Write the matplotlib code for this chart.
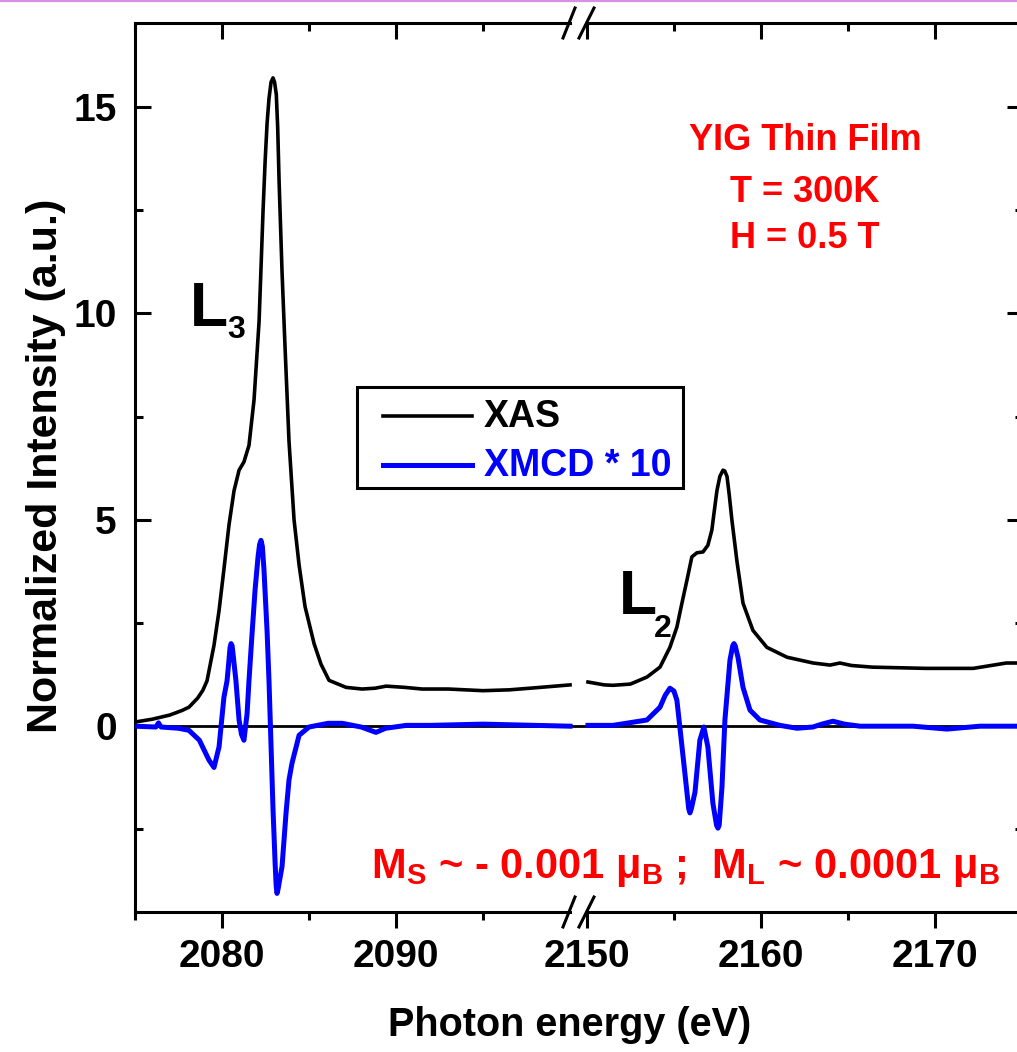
import matplotlib
matplotlib.use("Agg")
import matplotlib.pyplot as plt
from matplotlib.lines import Line2D
from matplotlib.patches import Rectangle

plt.rcParams['font.family'] = ['Liberation Sans', 'DejaVu Sans']
plt.rcParams['font.weight'] = 'bold'
plt.rcParams['mathtext.fontset'] = 'custom'
plt.rcParams['mathtext.rm'] = 'Liberation Sans:bold'
plt.rcParams['mathtext.default'] = 'rm'

# ---- data ----
# L3 edge (left part of the broken axis)
xas_E_L3 = [2075.0, 2076.0, 2077.0, 2077.7, 2078.1, 2078.6, 2078.9, 2079.14, 2079.54,
            2079.83, 2080.11, 2080.40, 2080.69, 2080.98, 2081.26, 2081.55, 2081.84,
            2082.13, 2082.25, 2082.36, 2082.48, 2082.59, 2082.70, 2082.82, 2082.93,
            2083.02, 2083.12, 2083.20, 2083.28, 2083.45, 2083.62, 2083.85, 2084.14,
            2084.43, 2084.77, 2085.29, 2085.69, 2086.15, 2087.13, 2088.05, 2088.8,
            2089.43, 2090.5, 2091.5, 2093.0, 2095.0, 2096.5, 2098.0, 2100.0]
xas_L3 = [0.10, 0.17, 0.27, 0.38, 0.46, 0.68, 0.87, 1.10, 1.96,
          2.80, 3.80, 4.87, 5.70, 6.20, 6.40, 6.80, 7.90,
          9.80, 11.2, 12.5, 13.7, 14.6, 15.2, 15.6, 15.7,
          15.6, 15.3, 14.5, 13.2, 11.0, 9.2, 6.9, 5.0,
          3.9, 2.9, 2.0, 1.5, 1.11, 0.94, 0.90, 0.92,
          0.97, 0.94, 0.90, 0.90, 0.86, 0.88, 0.93, 1.00]

mcd_E_L3 = [2075.0, 2076.2, 2076.35, 2076.5, 2077.5, 2078.1, 2078.7, 2079.25, 2079.54,
            2079.83, 2080.11, 2080.29, 2080.40, 2080.46, 2080.52, 2080.58, 2080.66,
            2080.80, 2080.98, 2081.12, 2081.26, 2081.44, 2081.55, 2081.72, 2081.90,
            2082.07, 2082.16, 2082.24, 2082.32, 2082.41, 2082.59, 2082.70, 2082.82,
            2082.93, 2083.05, 2083.11, 2083.16, 2083.22, 2083.28, 2083.45, 2083.68,
            2083.85, 2084.02, 2084.43, 2085.0, 2086.1, 2086.9, 2088.0, 2088.85,
            2089.4, 2090.6, 2092.0, 2095.0, 2098.0, 2100.0]
mcd_L3 = [0.0, -0.02, 0.08, -0.02, -0.05, -0.10, -0.34, -0.82, -1.0,
          -0.5, 0.7, 1.1, 1.6, 1.9, 2.0, 1.95, 1.65,
          1.1, 0.15, -0.2, -0.34, 0.3, 1.1, 2.2, 3.3,
          4.1, 4.4, 4.5, 4.35, 3.8, 2.3, 1.1, -0.5,
          -2.0, -3.3, -3.85, -4.05, -3.95, -3.8, -3.4, -2.1,
          -1.3, -0.9, -0.22, -0.02, 0.07, 0.07, -0.02, -0.15,
          -0.05, 0.02, 0.02, 0.05, 0.02, 0.0]

# L2 edge (right part)
xas_E_L2 = [2150.06, 2151.0, 2151.5, 2152.5, 2153.45, 2154.2, 2154.77, 2155.17, 2155.46,
            2155.75, 2156.03, 2156.32, 2156.67, 2156.95, 2157.18, 2157.30, 2157.47,
            2157.64, 2157.82, 2157.92, 2158.05, 2158.18, 2158.33, 2158.62, 2158.97,
            2159.54, 2160.34, 2161.5, 2163.0, 2163.97, 2164.54, 2165.2, 2166.4,
            2169.5, 2172.2, 2174.1, 2175.06]
xas_L2 = [1.07, 1.00, 0.99, 1.02, 1.19, 1.43, 1.91, 2.40, 2.98,
          3.54, 4.10, 4.20, 4.22, 4.38, 4.75, 5.15, 5.70,
          6.05, 6.20, 6.18, 6.05, 5.60, 5.00, 4.00, 2.98,
          2.32, 1.91, 1.67, 1.53, 1.48, 1.53, 1.47, 1.43,
          1.40, 1.40, 1.53, 1.53]

mcd_E_L2 = [2150.06, 2151.5, 2153.45, 2154.2, 2154.5, 2154.77, 2155.0, 2155.17, 2155.34,
            2155.63, 2155.85, 2155.92, 2156.0, 2156.21, 2156.49, 2156.72, 2156.95,
            2157.24, 2157.45, 2157.53, 2157.60, 2157.76, 2157.93, 2158.22, 2158.38,
            2158.45, 2158.52, 2158.68, 2158.97, 2159.37, 2159.94, 2161.09, 2162.07,
            2162.99, 2163.5, 2164.14, 2164.8, 2165.69, 2168.74, 2170.69, 2172.59,
            2175.06]
mcd_L2 = [0.02, 0.02, 0.15, 0.46, 0.75, 0.92, 0.85, 0.63, -0.02,
          -1.14, -2.0, -2.1, -2.0, -1.6, -0.34, -0.02, -0.5,
          -1.87, -2.4, -2.47, -2.4, -1.48, 0.15, 1.6, 1.95,
          2.0, 1.95, 1.67, 0.94, 0.39, 0.15, 0.02, -0.05,
          -0.02, 0.05, 0.12, 0.05, 0.0, 0.0, -0.07, 0.0,
          0.0]

left_xlim = (2075.0, 2100.4)
right_xlim = (2149.43, 2175.06)
left_major = [2080, 2090]
left_minor = [2075, 2085, 2095]
right_major = [2150, 2160, 2170]
right_minor = [2155, 2165, 2175]
y_major = [0, 5, 10, 15]
y_minor = [-2.5, 2.5, 7.5, 12.5]
legend_labels = ['XAS', 'XMCD * 10']

W, H = 1017, 1052
fig = plt.figure(figsize=(W / 100, H / 100), dpi=100)


def fx(px):
    return px / W


def fy(py):
    return 1 - py / H


ax1 = fig.add_axes([fx(135), fy(912), fx(577) - fx(135), fy(23) - fy(912)])
ax2 = fig.add_axes([fx(577), fy(912), fx(1023) - fx(577), fy(23) - fy(912)], sharey=ax1)

blue = '#0000ff'
lw_xas = 2.6
lw_mcd = 3.6
for ax, Ex, yx, Em, ym in [(ax1, xas_E_L3, xas_L3, mcd_E_L3, mcd_L3),
                           (ax2, xas_E_L2, xas_L2, mcd_E_L2, mcd_L2)]:
    ax.axhline(0, color='k', lw=2.0, zorder=1)
    ax.plot(Ex, yx, color='k', lw=lw_xas, zorder=2, solid_joinstyle='round')
    ax.plot(Em, ym, color=blue, lw=lw_mcd, zorder=3, solid_joinstyle='round')
    for s in ax.spines.values():
        s.set_linewidth(2.2)

ax1.set_xlim(*left_xlim)
ax2.set_xlim(*right_xlim)
ax1.set_ylim(-4.5, 17.03)

ax1.spines['right'].set_visible(False)
ax2.spines['left'].set_visible(False)
ax1.spines['top'].set_bounds(2075, 2100)
ax1.spines['bottom'].set_bounds(2075, 2100)
ax2.spines['top'].set_bounds(2150, right_xlim[1])
ax2.spines['bottom'].set_bounds(2150, right_xlim[1])

ax1.set_yticks(y_major)
ax1.set_yticks(y_minor, minor=True)
ax1.tick_params(axis='y', which='both', direction='in', left=True, right=False,
                labelsize=28, pad=13, width=2.2)
ax2.tick_params(axis='y', which='both', direction='in', left=False, right=True,
                labelleft=False, labelright=False, width=2.2)

for ax, maj, mnr in [(ax1, left_major, left_minor), (ax2, right_major, right_minor)]:
    ax.set_xticks(maj)
    ax.set_xticks(mnr, minor=True)
    ax.tick_params(axis='x', which='both', direction='out', top=False, bottom=True,
                   labelsize=28, pad=8, width=2.2)
    sec = ax.secondary_xaxis('top')
    sec.set_xticks(maj)
    sec.set_xticks(mnr, minor=True)
    sec.tick_params(axis='x', which='both', direction='in', labeltop=False, width=2.2)
    sec.tick_params(axis='x', which='major', length=11.5)
    sec.tick_params(axis='x', which='minor', length=5.8)
    for s in sec.spines.values():
        s.set_visible(False)

for ax in (ax1, ax2):
    ax.tick_params(which='major', length=11.5)
    ax.tick_params(which='minor', length=5.8)

# break marks
for yc in (23, 912):
    for x0, x1 in [(563, 575), (579, 594)]:
        fig.add_artist(Line2D([fx(x0), fx(x1)], [fy(yc + 15), fy(yc - 15)],
                              color='k', lw=2.2, transform=fig.transFigure))

# pink line across the top
fig.add_artist(Line2D([0, 1], [fy(1), fy(1)], color='#d98ee8', lw=1.6,
                      transform=fig.transFigure))

# legend box drawn by hand
fig.add_artist(Rectangle((fx(357), fy(488)), fx(683) - fx(357), fy(387) - fy(488),
                         facecolor='white', edgecolor='k', lw=2.2,
                         transform=fig.transFigure, zorder=5))
for yy, col, lw, lab in [(416, 'k', lw_xas, legend_labels[0]),
                         (465, blue, lw_mcd, legend_labels[1])]:
    fig.add_artist(Line2D([fx(383), fx(472)], [fy(yy), fy(yy)], color=col, lw=lw,
                          transform=fig.transFigure, zorder=6))
    fig.text(fx(484), fy(yy + 1), lab, color=col, fontsize=27, fontweight='bold',
             ha='left', va='center', zorder=6)

# labels
fig.text(fx(46), fy(466), 'Normalized Intensity (a.u.)', rotation=90,
         ha='center', va='center', fontsize=31, fontweight='bold')
fig.text(fx(570), fy(1025), 'Photon energy (eV)', ha='center', va='center',
         fontsize=28.5, fontweight='bold')

fig.text(fx(190), fy(326), 'L', fontsize=45, fontweight='bold', ha='left', va='baseline')
fig.text(fx(227), fy(338), '3', fontsize=23, fontweight='bold', ha='left', va='baseline')
fig.text(fx(619), fy(614), 'L', fontsize=45, fontweight='bold', ha='left', va='baseline')
fig.text(fx(654), fy(637), '2', fontsize=23, fontweight='bold', ha='left', va='baseline')

red = '#ff0000'
for txt, yy in [('YIG Thin Film', 140), ('T = 300K', 192), ('H = 0.5 T', 238)]:
    fig.text(fx(805), fy(yy), txt, color=red, fontsize=26, fontweight='bold',
             ha='center', va='center')

fig.text(fx(685), fy(868),
         'M$_S$ ~ - 0.001 \u03bc$_B$ ;  M$_L$ ~ 0.0001 \u03bc$_B$',
         color=red, fontsize=30, fontweight='bold', ha='center', va='center')

fig.savefig('out.png', dpi=100)
